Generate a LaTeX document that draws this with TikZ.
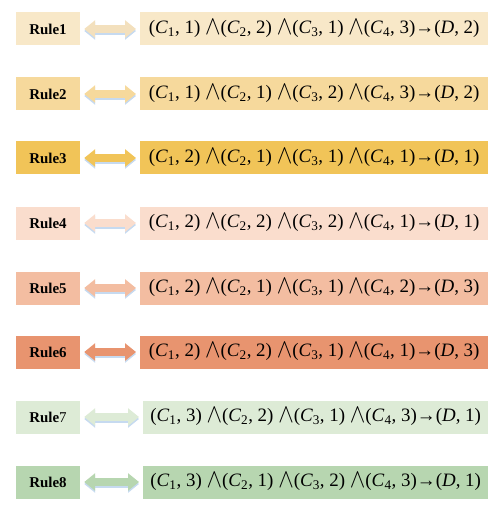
\documentclass[tikz,border=0pt]{standalone}
\usepackage{fontspec}
\usepackage{graphicx}
\setmainfont{Liberation Serif}
\usetikzlibrary{positioning,arrows.meta}
\definecolor{ruleA}{HTML}{F8E8C8}
\definecolor{ruleB}{HTML}{F6D99C}
\definecolor{ruleC}{HTML}{F1C458}
\definecolor{ruleD}{HTML}{FADDCD}
\definecolor{ruleE}{HTML}{F3BDA1}
\definecolor{ruleF}{HTML}{E8946F}
\definecolor{ruleG}{HTML}{DDEBD6}
\definecolor{ruleH}{HTML}{B7D6B0}
\definecolor{shade}{HTML}{C6DAF0}
\newcommand{\lit}[2]{(\textit{C}\textsubscript{#1}, #2)}
\newcommand{\aand}{\hspace{0.25em}\raisebox{-0.05em}{\scalebox{1.35}[1.55]{$\wedge$}}}
\newcommand{\goal}[1]{→(\textit{D}, #1)}
\begin{document}
\begin{tikzpicture}[x=1bp,y=-1bp,
  rulebox/.style={minimum width=64bp,minimum height=33bp,inner sep=0pt,font=\fontsize{15}{17}\selectfont\bfseries},
  exprbox/.style={minimum height=33bp,inner sep=0pt,anchor=west,font=\fontsize{19}{21}\selectfont},
  link/.style={line width=8bp,{Triangle[length=11bp,width=17bp]}-{Triangle[length=11bp,width=17bp]},shorten <=4bp,shorten >=4bp},
  linkshade/.style={link,draw=shade,fill=shade}]
\useasboundingbox (0,0) rectangle (490,509);
% rule labels
\node[rulebox,fill=ruleA] (r1) at (48,29) {Rule1};
\node[rulebox,fill=ruleB] (r2) at (48,94) {Rule2};
\node[rulebox,fill=ruleC] (r3) at (48,158) {Rule3};
\node[rulebox,fill=ruleD] (r4) at (48,223) {Rule4};
\node[rulebox,fill=ruleE] (r5) at (48,288) {Rule5};
\node[rulebox,fill=ruleF] (r6) at (48,352) {Rule6};
\node[rulebox,fill=ruleG] (r7) at (48,417) {Rule{\mdseries 7}};
\node[rulebox,fill=ruleH] (r8) at (48,482) {Rule8};
% rule bodies
\node[exprbox,fill=ruleA,minimum width=348bp] (e1) at (140,29) {\lit{1}{1}\aand\lit{2}{2}\aand\lit{3}{1}\aand\lit{4}{3}\goal{2}};
\node[exprbox,fill=ruleB,minimum width=348bp] (e2) at (140,94) {\lit{1}{1}\aand\lit{2}{1}\aand\lit{3}{2}\aand\lit{4}{3}\goal{2}};
\node[exprbox,fill=ruleC,minimum width=348bp] (e3) at (140,158) {\lit{1}{2}\aand\lit{2}{1}\aand\lit{3}{1}\aand\lit{4}{1}\goal{1}};
\node[exprbox,fill=ruleD,minimum width=348bp] (e4) at (140,223) {\lit{1}{2}\aand\lit{2}{2}\aand\lit{3}{2}\aand\lit{4}{1}\goal{1}};
\node[exprbox,fill=ruleE,minimum width=348bp] (e5) at (140,288) {\lit{1}{2}\aand\lit{2}{1}\aand\lit{3}{1}\aand\lit{4}{2}\goal{3}};
\node[exprbox,fill=ruleF,minimum width=348bp] (e6) at (140,352) {\lit{1}{2}\aand\lit{2}{2}\aand\lit{3}{1}\aand\lit{4}{1}\goal{3}};
\node[exprbox,fill=ruleG,minimum width=345bp] (e7) at (143,417) {\lit{1}{3}\aand\lit{2}{2}\aand\lit{3}{1}\aand\lit{4}{3}\goal{1}};
\node[exprbox,fill=ruleH,minimum width=345bp] (e8) at (143,482) {\lit{1}{3}\aand\lit{2}{1}\aand\lit{3}{2}\aand\lit{4}{3}\goal{1}};
% double arrows with their blue shade
\draw[linkshade] ([yshift=-2bp]r1.east) -- ([yshift=-2bp]e1.west);
\draw[link,draw=ruleA!92!brown] (r1) -- (e1);
\draw[linkshade] ([yshift=-2bp]r2.east) -- ([yshift=-2bp]e2.west);
\draw[link,draw=ruleB] (r2) -- (e2);
\draw[linkshade] ([yshift=-2bp]r3.east) -- ([yshift=-2bp]e3.west);
\draw[link,draw=ruleC] (r3) -- (e3);
\draw[linkshade] ([yshift=-2bp]r4.east) -- ([yshift=-2bp]e4.west);
\draw[link,draw=ruleD] (r4) -- (e4);
\draw[linkshade] ([yshift=-2bp]r5.east) -- ([yshift=-2bp]e5.west);
\draw[link,draw=ruleE] (r5) -- (e5);
\draw[linkshade] ([yshift=-2bp]r6.east) -- ([yshift=-2bp]e6.west);
\draw[link,draw=ruleF] (r6) -- (e6);
\draw[linkshade] ([yshift=-2bp]r7.east) -- ([yshift=-2bp]e7.west);
\draw[link,draw=ruleG] (r7) -- (e7);
\draw[linkshade] ([yshift=-2bp]r8.east) -- ([yshift=-2bp]e8.west);
\draw[link,draw=ruleH] (r8) -- (e8);
\end{tikzpicture}
\end{document}
